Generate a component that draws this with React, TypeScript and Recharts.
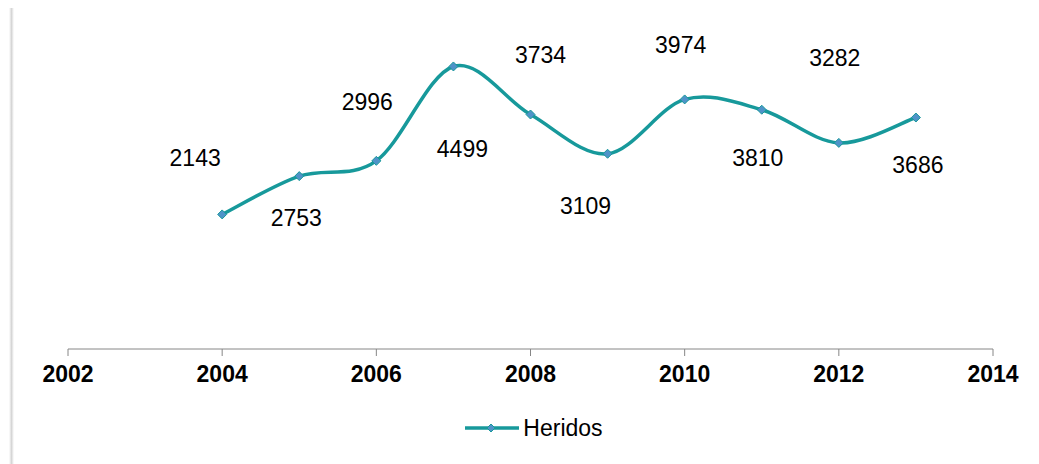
import React from "react";
import { LineChart, Line, XAxis, YAxis, Legend, LabelList } from "recharts";

// Heridos por año
const YEARS = [2004, 2005, 2006, 2007, 2008, 2009, 2010, 2011, 2012, 2013];
const HERIDOS = [2143, 2753, 2996, 4499, 3734, 3109, 3974, 3810, 3282, 3686];
const X_TICKS = [2002, 2004, 2006, 2008, 2010, 2012, 2014];

// where Excel dropped each data label relative to its point (dx, dy)
const LABEL_NUDGE: [number, number][] = [
  [-27, -56],
  [-3, 42],
  [-9, -59],
  [9, 83],
  [10, -60],
  [-22, 52],
  [-4, -54],
  [-4, 48],
  [-4, -85],
  [2, 47],
];

const LINE_COLOR = "#17999b";
const DOT_FILL = "#4f93c8";
const FONT = "'Liberation Sans', Arial, sans-serif";

const chartData = YEARS.map((year, i) => ({ year, heridos: HERIDOS[i] }));

// Excel style smoothed line (Catmull-Rom through every point)
const excelSmooth = (context: any) => {
  let pts: [number, number][] = [];
  return {
    areaStart() {},
    areaEnd() {},
    lineStart() {
      pts = [];
    },
    point(x: number, y: number) {
      pts.push([+x, +y]);
    },
    lineEnd() {
      if (!pts.length) return;
      context.moveTo(pts[0][0], pts[0][1]);
      for (let i = 0; i < pts.length - 1; i++) {
        const p0 = pts[Math.max(i - 1, 0)];
        const p1 = pts[i];
        const p2 = pts[i + 1];
        const p3 = pts[Math.min(i + 2, pts.length - 1)];
        context.bezierCurveTo(
          p1[0] + (p2[0] - p0[0]) / 6,
          p1[1] + (p2[1] - p0[1]) / 6,
          p2[0] - (p3[0] - p1[0]) / 6,
          p2[1] - (p3[1] - p1[1]) / 6,
          p2[0],
          p2[1]
        );
      }
    },
  };
};

const Diamond = (props: any) => {
  const { cx, cy, index } = props;
  if (cx == null || cy == null) return null;
  const r = 4.5;
  return (
    <polygon
      key={`d-${index}`}
      points={`${cx},${cy - r} ${cx + r},${cy} ${cx},${cy + r} ${cx - r},${cy}`}
      fill={DOT_FILL}
      stroke={LINE_COLOR}
      strokeWidth={1}
    />
  );
};

const NudgedLabel = (props: any) => {
  const { x, y, value, index } = props;
  const [dx, dy] = LABEL_NUDGE[index] || [0, -20];
  return (
    <text
      x={x + dx}
      y={y + dy}
      textAnchor="middle"
      dominantBaseline="central"
      fontFamily={FONT}
      fontSize={23}
      fill="#000"
    >
      {value}
    </text>
  );
};

const LegendContent = () => (
  <div
    style={{
      display: "flex",
      justifyContent: "center",
      alignItems: "center",
      height: 24,
      paddingLeft: 28,
      fontFamily: FONT,
      fontSize: 23,
      color: "#000",
    }}
  >
    <svg width={56} height={12} style={{ marginRight: 3 }}>
      <line x1={1} y1={6} x2={55} y2={6} stroke={LINE_COLOR} strokeWidth={3.5} />
      <polygon points="27,2 31,6 27,10 23,6" fill={DOT_FILL} stroke={LINE_COLOR} strokeWidth={1} />
    </svg>
    <span>Heridos</span>
  </div>
);

export default function App() {
  return (
    <div
      style={{
        position: "absolute",
        left: 0,
        top: 0,
        width: 1039,
        height: 464,
        background: "#fff",
        overflow: "hidden",
      }}
    >
      <div
        style={{
          position: "absolute",
          left: 9,
          top: 8,
          width: 5,
          height: 456,
          background: "linear-gradient(to right, #ffffff, #d6d6d6 50%, #ffffff)",
        }}
      />
      <LineChart
        width={1039}
        height={464}
        data={chartData}
        margin={{ top: 35, right: 46, left: 68, bottom: 24 }}
      >
        <XAxis
          dataKey="year"
          type="number"
          domain={[2002, 2014]}
          ticks={X_TICKS}
          interval={0}
          allowDataOverflow
          height={67}
          stroke="#868686"
          tickSize={7}
          tickMargin={10}
          tick={{ fill: "#000", fontSize: 23, fontWeight: "bold", fontFamily: FONT }}
        />
        <YAxis hide domain={[0, 5000]} width={0} />
        <Legend
          verticalAlign="bottom"
          content={LegendContent}
          wrapperStyle={{ left: 0, width: 1039 }}
        />
        <Line
          name="Heridos"
          dataKey="heridos"
          type={excelSmooth as any}
          stroke={LINE_COLOR}
          strokeWidth={3.5}
          dot={Diamond}
          activeDot={false}
          isAnimationActive={false}
        >
          <LabelList dataKey="heridos" content={NudgedLabel} />
        </Line>
      </LineChart>
    </div>
  );
}
